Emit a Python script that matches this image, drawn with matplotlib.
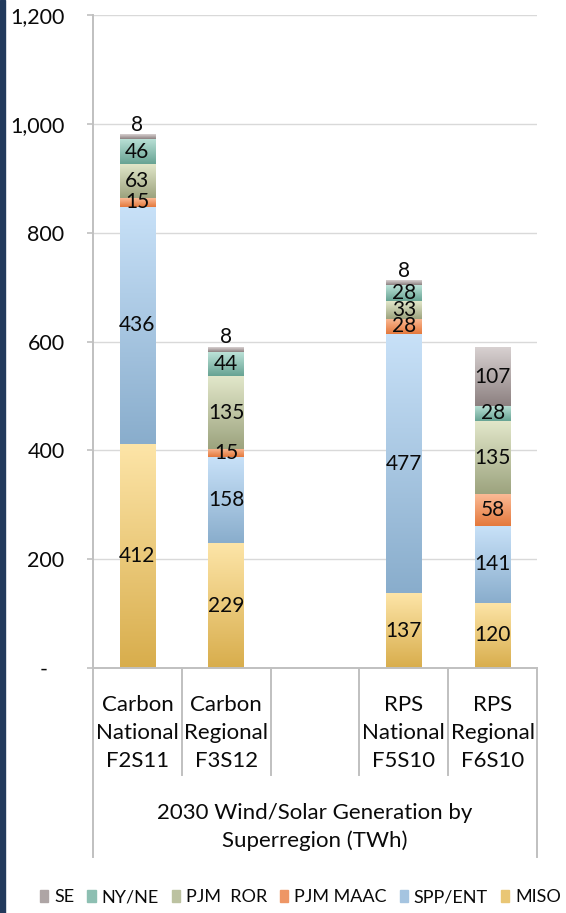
import numpy as np
import matplotlib
matplotlib.use("Agg")
import matplotlib.pyplot as plt
from matplotlib.colors import LinearSegmentedColormap
from matplotlib.patches import Rectangle
from matplotlib.ticker import FuncFormatter

plt.rcParams["font.family"] = ["Lato", "DejaVu Sans"]

# ---- data (TWh) ----
categories = ["Carbon\nNational\nF2S11", "Carbon\nRegional\nF3S12", "",
              "RPS\nNational\nF5S10", "RPS\nRegional\nF6S10"]
series = ["MISO", "SPP/ENT", "PJM MAAC", "PJM  ROR", "NY/NE", "SE"]
miso = [412, 229, 0, 137, 120]
spp_ent = [436, 158, 0, 477, 141]
pjm_maac = [15, 15, 0, 28, 58]
pjm_ror = [63, 135, 0, 33, 135]
ny_ne = [46, 44, 0, 28, 28]
se = [8, 8, 0, 8, 107]
values = [miso, spp_ent, pjm_maac, pjm_ror, ny_ne, se]
group_label = "2030 Wind/Solar Generation by\nSuperregion (TWh)"

# light (top) -> dark (bottom) for each segment
shades = {
    "MISO": ("#fde5a8", "#d8ad4c"),
    "SPP/ENT": ("#c8e1f8", "#89adcc"),
    "PJM MAAC": ("#fbbb96", "#e4783c"),
    "PJM  ROR": ("#e3e8cb", "#9ca37e"),
    "NY/NE": ("#bce2d8", "#67a393"),
    "SE": ("#d8d1d1", "#8c8080"),
}
ink = "#0a0a0a"

W, H = 566, 913
fig = plt.figure(figsize=(W / 100, H / 100), dpi=100)
ax = fig.add_axes([93 / W, 1 - 668 / H, 444 / W, 653 / H])

# navy strip on the left edge
fig.patches.append(Rectangle((0, 0), 5 / W, 1, transform=fig.transFigure,
                             color="#223a5c", zorder=0))

x = np.arange(len(categories))
grad = np.linspace(0, 1, 256).reshape(-1, 1)
bottom = np.zeros(len(categories))
for name, vals in zip(series, values):
    vals = np.array(vals, dtype=float)
    cmap = LinearSegmentedColormap.from_list(name, shades[name])
    bars = ax.bar(x, vals, 0.4, bottom=bottom, color="none", zorder=2)
    for i, b in enumerate(bars):
        if vals[i] <= 0:
            continue
        x0, y0, w, h = b.get_x(), b.get_y(), b.get_width(), b.get_height()
        ax.imshow(grad, extent=[x0, x0 + w, y0, y0 + h], cmap=cmap,
                  aspect="auto", origin="upper", zorder=2,
                  interpolation="bilinear")
        if name == "SE" and vals[i] < 20:
            ax.annotate(f"{vals[i]:.0f}", (x[i], y0 + h), xytext=(0, 0),
                        textcoords="offset points", ha="center", va="bottom",
                        fontsize=15, color=ink, zorder=4)
        else:
            ax.text(x[i], y0 + h / 2, f"{vals[i]:.0f}", ha="center",
                    va="center", fontsize=15, color=ink, zorder=4)
    bottom += vals

ax.set_xlim(-0.5, len(categories) - 0.5)
ax.set_ylim(0, 1200)
ax.set_yticks(np.arange(0, 1201, 200))
ax.yaxis.set_major_formatter(
    FuncFormatter(lambda v, p: "-   " if v == 0 else f"{v:,.0f}"))
ax.set_xticks([])
ax.grid(axis="y", color="#d9d9d9", lw=1, zorder=0)
ax.set_axisbelow(True)
for s in ["top", "right"]:
    ax.spines[s].set_visible(False)
for s in ["left", "bottom"]:
    ax.spines[s].set_color("#c0c0c0")
    ax.spines[s].set_linewidth(1.4)
ax.tick_params(axis="y", length=4.5, width=1.2, color="#c0c0c0",
               pad=16, labelsize=15.5, labelcolor=ink)

# category boxes under the axis
tr = ax.get_xaxis_transform()
for b in np.arange(0.5, len(categories) - 1, 1.0):
    ax.plot([b, b], [0, -0.164], transform=tr, color="#c0c0c0", lw=1.4,
            clip_on=False)
for b in [-0.5, len(categories) - 0.5]:
    ax.plot([b, b], [0, -0.289], transform=tr, color="#c0c0c0", lw=1.4,
            clip_on=False)
for xi, lab in zip(x, categories):
    ax.text(xi, -0.0995, lab, transform=tr, ha="center", va="center",
            fontsize=16, color=ink, linespacing=1.5)
ax.text((len(categories) - 1) / 2, -0.2435, group_label, transform=tr,
        ha="center", va="center", fontsize=16, color=ink,
        linespacing=1.5)

# legend in SE ... MISO order
handles = [Rectangle((0, 0), 1, 1, color=LinearSegmentedColormap.from_list(
    n, shades[n])(0.55)) for n in series[::-1]]
fig.legend(handles, series[::-1], loc="center", ncol=6, frameon=False,
           bbox_to_anchor=(300.5 / W, 1 - 897 / H), fontsize=13,
           handlelength=0.45, handleheight=0.67, handletextpad=0.33,
           columnspacing=0.72, borderaxespad=0, borderpad=0,
           labelcolor=ink)

fig.savefig("out.png", dpi=100)
